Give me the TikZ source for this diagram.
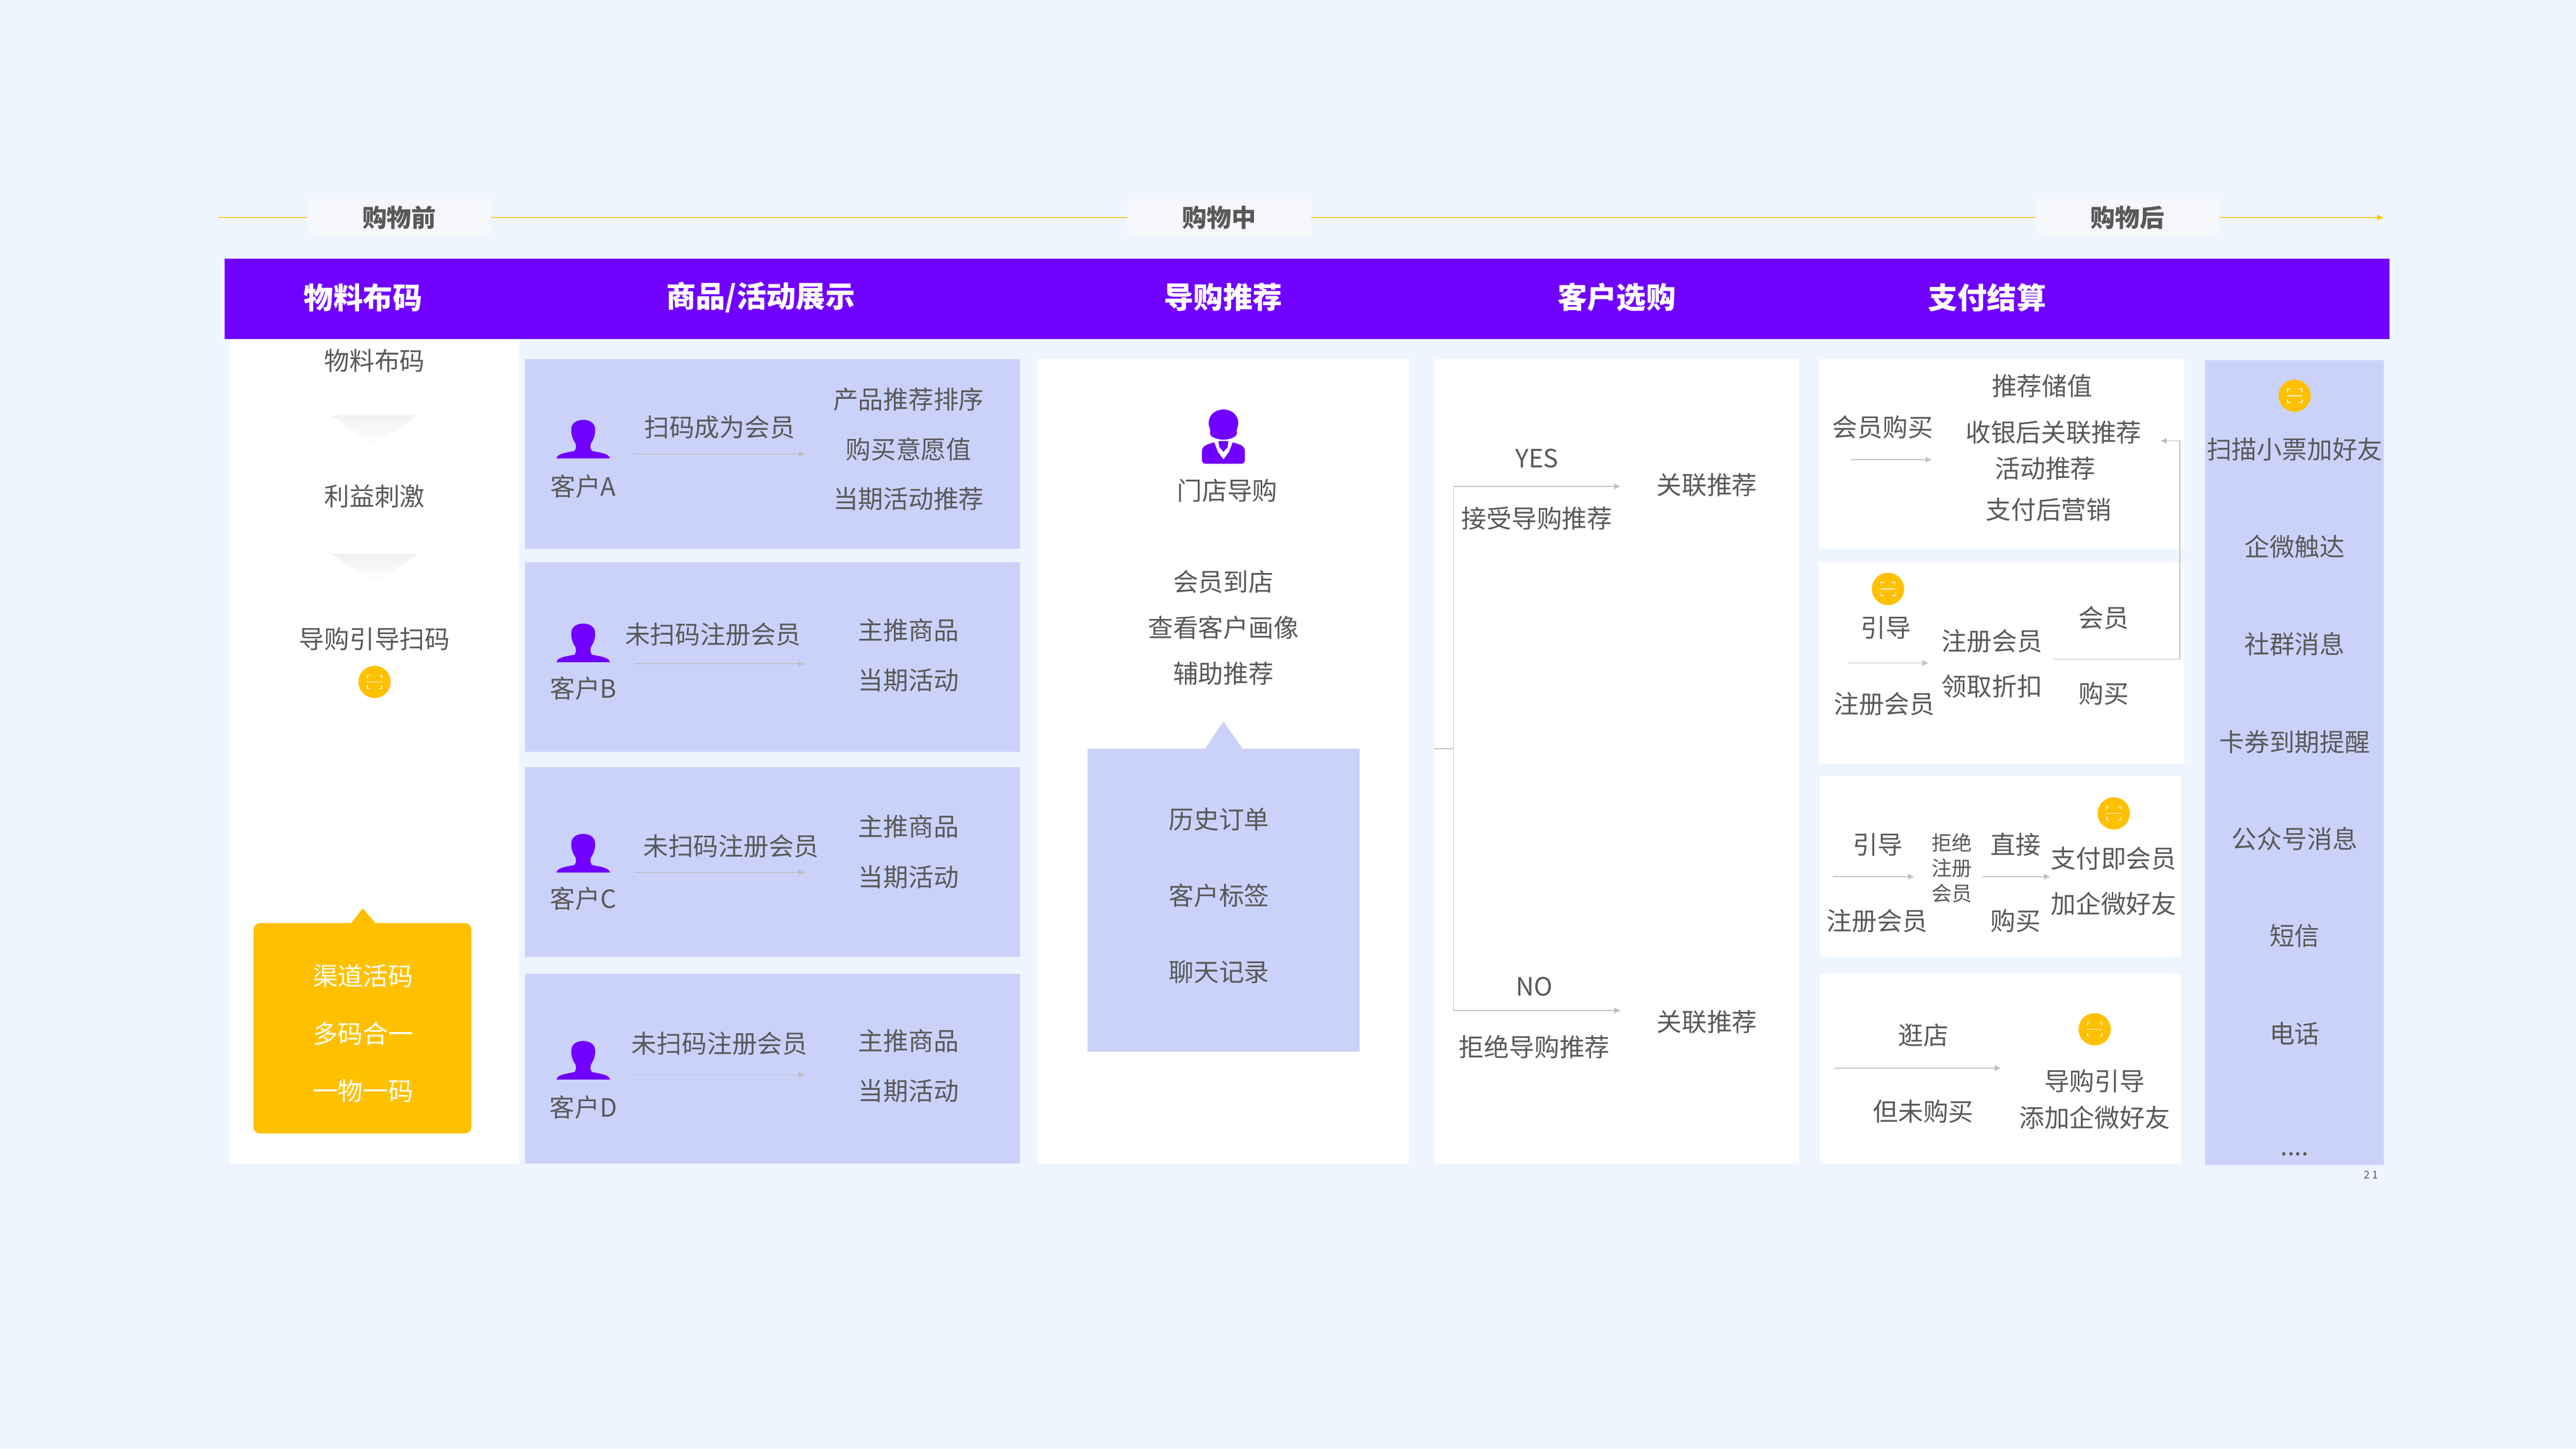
\documentclass[tikz,border=0pt]{standalone}
\usepackage{fontspec}
\setmainfont{Noto Sans CJK SC}
\usetikzlibrary{arrows.meta,shapes.geometric}
\definecolor{pagebg}{HTML}{EEF5FE}
\definecolor{purp}{HTML}{7000FF}
\definecolor{lilac}{HTML}{CBD2FA}
\definecolor{amber}{HTML}{FFC000}
\definecolor{ink}{HTML}{595959}
\definecolor{wire}{HTML}{BFBFBF}
\definecolor{goldline}{HTML}{FAC835}
\definecolor{fade}{HTML}{E4E6EA}
\definecolor{tag}{HTML}{F5F7FB}
% customer silhouette, #1 centre x, #2 bottom y
\newcommand{\customer}[2]{
  \fill[purp,shift={(#1,#2)}] (-16.3,0) .. controls (-15.6,-3) and (-11,-3.4) .. (-5.2,-4.6) -- (-4.4,-6.5)
    -- (-4.6,-9) .. controls (-6,-11) and (-7.4,-14) .. (-7.3,-17.5) .. controls (-7.3,-21.5) and (-4,-23.5) .. (0,-23.5)
    .. controls (4,-23.5) and (7.3,-21.5) .. (7.3,-17.5) .. controls (7.4,-14) and (6,-11) .. (4.6,-9)
    -- (4.4,-6.5) -- (5.2,-4.6) .. controls (11,-3.4) and (15.6,-3) .. (16.3,0) -- cycle;
}
% scan badge, #1 name, #2 x, #3 y
\newcommand{\scanbadge}[3]{
  \node[badge] (#1) at (#2,#3) {};
  \draw[white,line width=.5pt,shift={(#2,#3)}] (-4.4,-2.2) |- (-2.6,-4.1) (2.6,-4.1) -| (4.4,-2.2)
    (-4.4,2.2) |- (-2.6,4.1) (2.6,4.1) -| (4.4,2.2) (-4.6,0) -- (4.6,0);
}
% grey arrow, #1 name, #2 x from, #3 x to, #4 y
\newcommand{\flw}[4]{
  \coordinate (#1s) at (#2,#4);
  \coordinate (#1e) at (#3,#4);
  \draw[flow] (#1s) -- (#1e);
}
\newcommand{\fadetri}[1]{
  \shade[top color=fade!55,middle color=fade,bottom color=white,shift={(228,#1)}] (-26,0) -- (26,0) -- (0,18.5) -- cycle;
}
\begin{document}
\begin{tikzpicture}[x=1pt,y=-1pt,>={Latex[length=3.85pt,width=3.85pt]},
  every node/.style={inner sep=0pt,outer sep=0pt},
  txt/.style={text=ink,font=\fontsize{15.3}{18}\selectfont},
  wtxt/.style={text=white,font=\fontsize{15.3}{18}\selectfont},
  small/.style={text=ink,font=\fontsize{12.3}{15}\selectfont},
  head/.style={text=white,font=\fontsize{18}{22}\selectfont\bfseries},
  phase/.style={fill=tag,text=ink,minimum width=112pt,minimum height=23.2pt,font=\fontsize{15}{18}\selectfont\bfseries},
  badge/.style={circle,fill=amber,minimum size=19.6pt},
  flow/.style={->,wire,line width=.5pt},
  wirel/.style={wire,line width=.5pt}]
  \fill[pagebg] (0,0) rectangle (1568,881.6);
  \useasboundingbox (0,0) rectangle (1568,881.6);
  % timeline
  \coordinate (tl0) at (133,132.4);
  \coordinate (tl1) at (1451,132.4);
  \node[phase] (pre) at (243,132.4) {购物前};
  \node[phase] (mid) at (742,132.4) {购物中};
  \node[phase] (post) at (1295,132.4) {购物后};
  \draw[goldline,line width=.7pt] (tl0) -- (pre) (pre) -- (mid) (mid) -- (post);
  \draw[-{Latex[length=3.85pt,width=3.85pt,color=amber]},goldline,line width=.7pt] (post) -- (tl1);
  % header
  \fill[purp] (136.7,157.4) rectangle (1454.6,206.3);
  \node[head] (h1) at (221,181) {物料布码};
  \node[head] (h2) at (463,181) {商品/活动展示};
  \node[head] (h3) at (744.5,181) {导购推荐};
  \node[head] (h4) at (984,181) {客户选购};
  \node[head] (h5) at (1209.5,181) {支付结算};
  % panels
  \fill[white] (140,206.3) rectangle (316,708.2);
  \fill[white] (631.7,218.6) rectangle (857.8,708.2);
  \fill[white] (873,218.6) rectangle (1095,708.2);
  \fill[white] (1107,218.6) rectangle (1329.7,334);
  \fill[white] (1107,342) rectangle (1329.7,464.7);
  \fill[white] (1108,472.4) rectangle (1327.8,582.3);
  \fill[white] (1108,592.7) rectangle (1327.8,708.2);
  \fill[lilac] (1342.3,219.3) rectangle (1451,709);
  \fill[lilac] (319.6,218.6) rectangle (620.8,334);
  \fill[lilac] (319.6,342) rectangle (620.8,457.5);
  \fill[lilac] (319.6,466.9) rectangle (620.8,582.4);
  \fill[lilac] (319.6,592.7) rectangle (620.8,708.2);
  % column 1
  \node[txt] (m1) at (228,219.5) {物料布码};
  \fadetri{252.8}
  \node[txt] (m2) at (228,302) {利益刺激};
  \fadetri{337}
  \node[txt] (m3) at (228,389) {导购引导扫码};
  \scanbadge{sc1}{228}{415}
  \fill[amber,rounded corners=4pt] (154.3,561.8) rectangle (287,689.8);
  \fill[amber] (213.6,562) -- (220.8,552.7) -- (228.7,562) -- cycle;
  \node[wtxt] (g1) at (221,594) {渠道活码};
  \node[wtxt] (g2) at (221,629) {多码合一};
  \node[wtxt] (g3) at (221,664) {一物一码};
  % column 2
  \customer{355}{279}
  \node[txt] (ca) at (355,296) {客户A};
  \node[txt] (ca1) at (438,260) {扫码成为会员};
  \flw{fa}{386}{490}{276.3}
  \node[txt] (ca2) at (553,243) {产品推荐排序};
  \node[txt] (ca3) at (553,273.5) {购买意愿值};
  \node[txt] (ca4) at (553,303.5) {当期活动推荐};
  \customer{355}{403}
  \node[txt] (cb) at (355,419) {客户B};
  \node[txt] (cb1) at (434,386) {未扫码注册会员};
  \flw{fb}{386}{490}{404}
  \node[txt] (cb2) at (553,383.5) {主推商品};
  \node[txt] (cb3) at (553,414) {当期活动};
  \customer{355}{531}
  \node[txt] (cc) at (355,547) {客户C};
  \node[txt] (cc1) at (445,515) {未扫码注册会员};
  \flw{fc}{386}{490}{531}
  \node[txt] (cc2) at (553,503) {主推商品};
  \node[txt] (cc3) at (553,533.7) {当期活动};
  \customer{355}{657}
  \node[txt] (cd) at (355,674) {客户D};
  \node[txt] (cd1) at (438,635) {未扫码注册会员};
  \flw{fd}{386}{490}{654}
  \node[txt] (cd2) at (553,633.5) {主推商品};
  \node[txt] (cd3) at (553,664) {当期活动};
  % column 3
  \fill[purp,shift={(744.7,0)}] (-13.1,279) .. controls (-13.1,282.2) and (-12,282.2) .. (-10,282.2) -- (10,282.2)
    .. controls (12,282.2) and (13.1,282.2) .. (13.1,279) -- (13.1,275) .. controls (13.1,271) and (10,270.5) .. (5.6,269.2)
    -- (3.4,275) -- (0,279.6) -- (-3.4,275) -- (-5.6,269.2) .. controls (-10,270.5) and (-13.1,271) .. (-13.1,275) -- cycle;
  \fill[purp,shift={(744.7,0)}] (-3,268.5) -- (3,268.5) -- (2.5,272.2) -- (0,275) -- (-2.5,272.2) -- cycle;
  \fill[purp,shift={(744.7,0)}] (0,249.2) .. controls (5,249.2) and (9,252.5) .. (9,257.5) .. controls (9,260) and (7.6,261) .. (8.2,263.5)
    .. controls (8.4,265) and (6,267.3) .. (0,267.6) .. controls (-6,267.3) and (-8.4,265) .. (-8.2,263.5)
    .. controls (-7.6,261) and (-9,260) .. (-9,257.5) .. controls (-9,252.5) and (-5,249.2) .. (0,249.2) -- cycle;
  \node[txt] (sa) at (747,298.4) {门店导购};
  \node[txt] (s1) at (744.7,354) {会员到店};
  \node[txt] (s2) at (744.7,382) {查看客户画像};
  \node[txt] (s3) at (744.7,410) {辅助推荐};
  \fill[lilac] (661.9,455.8) rectangle (827.7,640);
  \fill[lilac] (733.2,456) -- (744.7,439) -- (756.6,456) -- cycle;
  \node[txt] (b1) at (742,498.5) {历史订单};
  \node[txt] (b2) at (742,545) {客户标签};
  \node[txt] (b3) at (742,591.5) {聊天记录};
  % column 4
  \coordinate (st) at (872.6,455.6);
  \coordinate (sm) at (884.8,455.6);
  \coordinate (yb) at (884.8,296);
  \coordinate (nb) at (884.8,615);
  \coordinate (ye) at (986.5,296);
  \coordinate (ne) at (986.5,615);
  \draw[wirel] (st) -- (sm);
  \draw[flow] (sm) -- (yb) -- (ye);
  \draw[flow] (sm) -- (nb) -- (ne);
  \node[txt] (y1) at (935.5,279) {YES};
  \node[txt] (y2) at (935.5,315.5) {接受导购推荐};
  \node[txt] (y3) at (1039,295) {关联推荐};
  \node[txt] (n1) at (934,600.5) {NO};
  \node[txt] (n2) at (934,637) {拒绝导购推荐};
  \node[txt] (n3) at (1039,622) {关联推荐};
  % column 5
  \node[txt] (p1) at (1146,260) {会员购买};
  \flw{pa}{1126.6}{1176}{279.8}
  \node[txt] (p2) at (1243,235) {推荐储值};
  \node[txt] (p3) at (1250,263) {收银后关联推荐};
  \node[txt] (p4) at (1245,285) {活动推荐};
  \node[txt] (p5) at (1247,310) {支付后营销};
  \scanbadge{sc2}{1149.2}{358.4}
  \node[txt] (q1) at (1148,382) {引导};
  \flw{qa}{1124.4}{1174}{403.5}
  \node[txt] (q2) at (1147,428.4) {注册会员};
  \node[txt] (q3) at (1212.5,390) {注册会员};
  \node[txt] (q4) at (1212.5,417.7) {领取折扣};
  \node[txt] (q5) at (1280.6,376) {会员};
  \node[txt] (q6) at (1280.6,422) {购买};
  \coordinate (lp0) at (1250,401.3);
  \coordinate (lp1) at (1326.8,401.3);
  \coordinate (lp2) at (1326.8,268.3);
  \coordinate (lp3) at (1315,268.3);
  \draw[flow] (lp0) -- (lp1) -- (lp2) -- (lp3);
  \node[txt] (r1) at (1143,514) {引导};
  \flw{ra}{1115.7}{1165.3}{533.5}
  \node[txt] (r2) at (1142.5,560.4) {注册会员};
  \node[small] (r3) at (1188,512.7) {拒绝};
  \node[small] (r4) at (1188,528.3) {注册};
  \node[small] (r5) at (1188,543.6) {会员};
  \node[txt] (r6) at (1227,514) {直接};
  \flw{rb}{1206.6}{1248}{533.5}
  \node[txt] (r7) at (1227,560.4) {购买};
  \scanbadge{sc3}{1286.6}{495}
  \node[txt] (r8) at (1286.5,522.5) {支付即会员};
  \node[txt] (r9) at (1286.5,550) {加企微好友};
  \node[txt] (t1) at (1170.7,630) {逛店};
  \flw{ta}{1116.6}{1218}{650}
  \node[txt] (t2) at (1170.7,676.4) {但未购买};
  \scanbadge{sc4}{1275}{626.4}
  \node[txt] (t3) at (1275,658) {导购引导};
  \node[txt] (t4) at (1275,680) {添加企微好友};
  % column 6
  \scanbadge{sc5}{1396.7}{240.8}
  \node[txt] (e1) at (1396.7,273.5) {扫描小票加好友};
  \node[txt] (e2) at (1396.7,332.7) {企微触达};
  \node[txt] (e3) at (1396.7,392) {社群消息};
  \node[txt] (e4) at (1396.7,451.5) {卡券到期提醒};
  \node[txt] (e5) at (1396.7,510.5) {公众号消息};
  \node[txt] (e6) at (1396.7,569.6) {短信};
  \node[txt] (e7) at (1396.7,629) {电话};
  \node[txt] (e8) at (1396.7,702.5) {....};
  \node[txt,font=\fontsize{6.5}{8}\selectfont\addfontfeatures{LetterSpace=25}] (pg) at (1443.2,715) {21};
\end{tikzpicture}
\end{document}
